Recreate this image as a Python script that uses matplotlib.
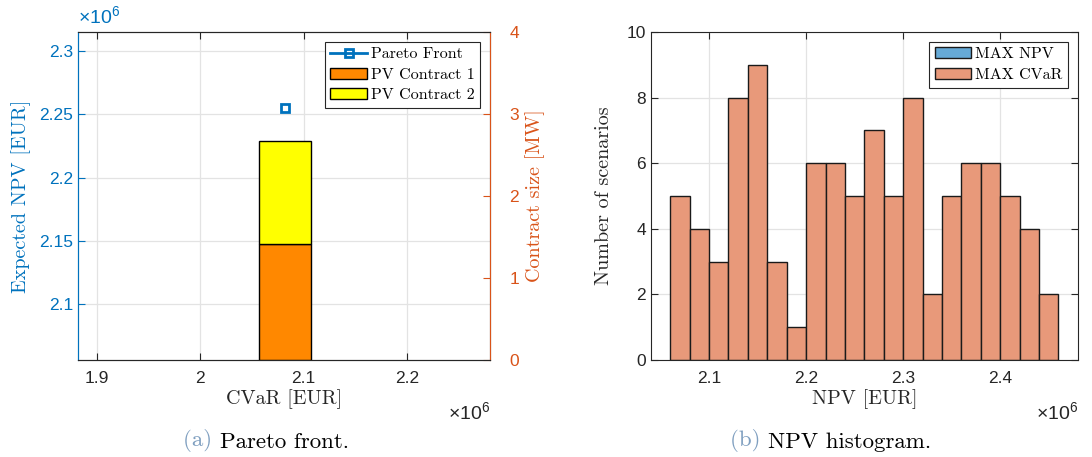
"""Pareto front and NPV histogram."""

import matplotlib
matplotlib.use("Agg")
import matplotlib.pyplot as plt
from matplotlib.patches import Patch
from matplotlib.ticker import FuncFormatter

# Pareto front (EUR) and contract sizes (MW)
pareto_cvar = [2.0822e6]
pareto_npv = [2.2553e6]
contract_1 = [1.41]
contract_2 = [1.26]

# NPV histogram, MAX CVaR solution
bin_edges = [2.06e6 + 0.02e6 * i for i in range(21)]
counts_cvar = [5, 4, 3, 8, 9, 3, 1, 6, 6, 5, 7, 5, 8, 2, 5, 6, 6, 5, 4, 2]

BLUE = "#0072BD"
ORANGE = "#D95319"
AXC = "#262626"
SANS = "Liberation Sans"
SERIF = "cmr10"

plt.rcParams["mathtext.fontset"] = "custom"
plt.rcParams["mathtext.rm"] = SANS
plt.rcParams["mathtext.it"] = SANS
plt.rcParams["font.family"] = SANS

mega = FuncFormatter(lambda v, _: f"{v / 1e6:g}")
leg_kw = dict(loc="upper right", prop={"family": SERIF, "size": 11.5}, fancybox=False,
              edgecolor=AXC, framealpha=1, borderpad=0.35, handlelength=2.3,
              handletextpad=0.25, labelspacing=0.4, borderaxespad=0.6)

fig = plt.figure(figsize=(10.92, 4.57), dpi=100)
ax1 = fig.add_axes([0.0714, 0.2123, 0.3773, 0.7177])
ax3 = fig.add_axes([0.596, 0.2123, 0.391, 0.7177])

# ---- (a) Pareto front ----
ax2 = ax1.twinx()
ax1.plot(pareto_cvar, pareto_npv, "-s", color=BLUE, mfc="none", mec=BLUE, mew=2,
         ms=6, lw=2, label="Pareto Front")
b1 = ax2.bar(pareto_cvar, contract_1, width=0.05e6, color="#FF8800", edgecolor="black",
             lw=1, label="PV Contract 1")
b2 = ax2.bar(pareto_cvar, contract_2, bottom=contract_1, width=0.05e6, color="#FFFF00",
             edgecolor="black", lw=1, label="PV Contract 2")

ax1.set_xlim(1.882e6, 2.28e6)
ax1.set_ylim(2.0558e6, 2.315e6)
ax2.set_ylim(0, 4)
ax1.set_xticks([1.9e6, 2.0e6, 2.1e6, 2.2e6])
ax1.set_yticks([2.1e6, 2.15e6, 2.2e6, 2.25e6, 2.3e6])
ax2.set_yticks([0, 1, 2, 3, 4])
ax1.xaxis.set_major_formatter(mega)
ax1.yaxis.set_major_formatter(mega)
ax1.grid(True, color="#E3E3E3", lw=0.9)
ax1.set_axisbelow(True)

ax1.tick_params(axis="x", direction="in", top=True, length=5, labelsize=12.5, colors=AXC, pad=8)
ax1.tick_params(axis="y", direction="in", length=5, labelsize=12.5, colors=BLUE)
ax2.tick_params(axis="y", direction="in", length=5, labelsize=12.5, colors=ORANGE, pad=14)
ax1.spines["left"].set_color(BLUE)
ax2.spines["left"].set_color(BLUE)
ax2.spines["right"].set_color(ORANGE)
for ax in (ax1, ax2):
    ax.spines["top"].set_color(AXC)
    ax.spines["bottom"].set_color(AXC)

ax1.set_xlabel("CVaR [EUR]", family=SERIF, fontsize=14.5, color=AXC, labelpad=2)
ax1.set_ylabel("Expected NPV [EUR]", family=SERIF, fontsize=14.5, color=BLUE, labelpad=6)
ax2.set_ylabel("Contract size [MW]", family=SERIF, fontsize=14.5, color=ORANGE, labelpad=4)
ax1.text(0.0, 1.015, r"$\times10^{6}$", transform=ax1.transAxes, color=BLUE,
         fontsize=14, ha="left", va="bottom")
ax1.text(1.0, -0.125, r"$\times10^{6}$", transform=ax1.transAxes, color=AXC,
         fontsize=14, ha="right", va="top")

handles = [ax1.get_lines()[0], b1, b2]
leg = ax2.legend(handles, [h.get_label() for h in handles], **leg_kw)
leg.get_frame().set_linewidth(0.8)

# ---- (b) NPV histogram ----
ax3.hist(bin_edges[:-1], bins=bin_edges, weights=counts_cvar, color="#E8997A",
         edgecolor="#1a1a1a", lw=1, zorder=2)
ax3.set_xlim(2.04e6, 2.48e6)
ax3.set_ylim(0, 10)
ax3.set_xticks([2.1e6, 2.2e6, 2.3e6, 2.4e6])
ax3.set_yticks([0, 2, 4, 6, 8, 10])
ax3.xaxis.set_major_formatter(mega)
ax3.grid(True, color="#E3E3E3", lw=0.9, zorder=0)
ax3.set_axisbelow(True)
ax3.tick_params(direction="in", top=True, right=True, length=5, labelsize=12.5, colors=AXC)
ax3.tick_params(axis="x", pad=8)
for s in ax3.spines.values():
    s.set_color(AXC)
ax3.set_xlabel("NPV [EUR]", family=SERIF, fontsize=14.5, color=AXC, labelpad=2)
ax3.set_ylabel("Number of scenarios", family=SERIF, fontsize=14.5, color=AXC, labelpad=10)
ax3.text(1.0, -0.125, r"$\times10^{6}$", transform=ax3.transAxes, color=AXC,
         fontsize=14, ha="right", va="top")
proxies = [Patch(facecolor="#66AAD7", edgecolor="#1a1a1a", label="MAX NPV"),
           Patch(facecolor="#E8997A", edgecolor="#1a1a1a", label="MAX CVaR")]
leg3 = ax3.legend(handles=proxies, **leg_kw)
leg3.get_frame().set_linewidth(0.8)

# captions
for x, tag, cap in [(0.2015, "(a)", "Pareto front."), (0.703, "(b)", "NPV histogram.")]:
    fig.text(x, 0.012, tag + " ", family=SERIF, fontsize=16.5, color="#7F9FC0",
             ha="right", va="bottom")
    fig.text(x, 0.012, cap, family=SERIF, fontsize=16.5, color="black", ha="left", va="bottom")

fig.savefig("out.png", dpi=100)
